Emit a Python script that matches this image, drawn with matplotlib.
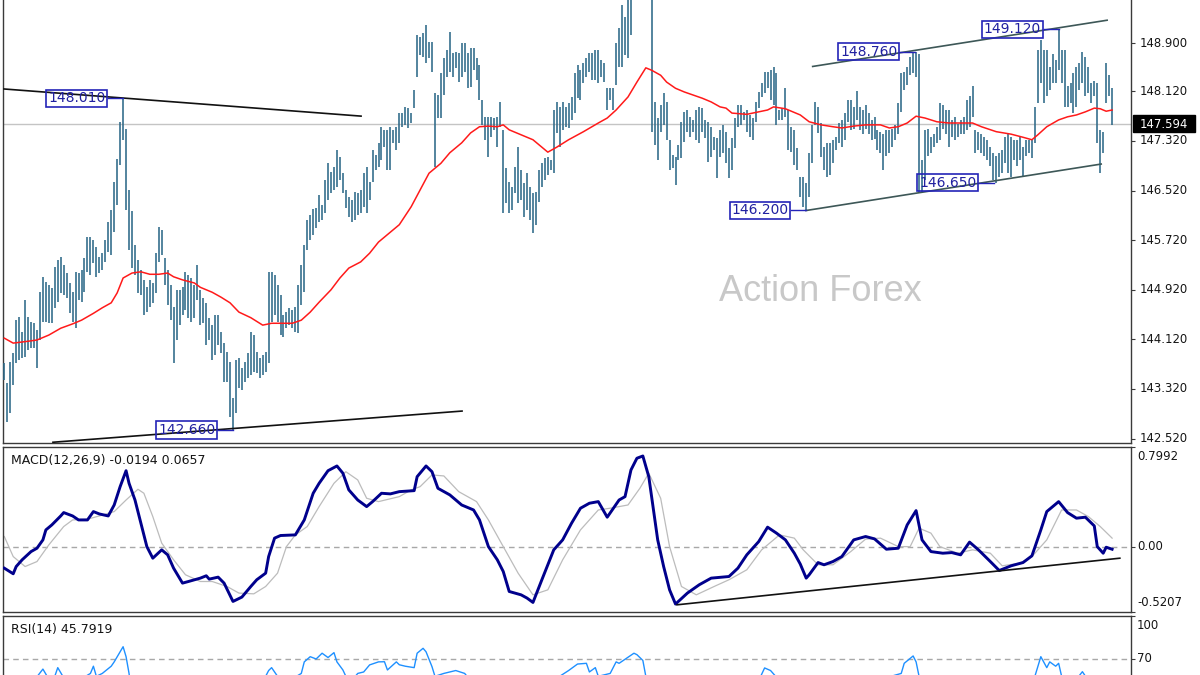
import matplotlib
matplotlib.use("Agg")
import matplotlib.pyplot as plt
import matplotlib.transforms as mtransforms
from matplotlib.patches import Rectangle
import numpy as np

# ---------------- data ----------------
bar_high = [
    143.74, 143.42, 143.76, 143.90, 144.43, 144.48, 144.24, 144.76, 144.48, 144.40,
    144.39, 144.27, 144.88, 145.13, 145.05, 145.00, 144.95, 145.29, 145.40, 145.45,
    145.32, 145.19, 145.03, 144.88, 145.21, 145.19, 145.24, 145.43, 145.77, 145.77,
    145.72, 145.61, 145.45, 145.51, 145.72, 146.01, 146.21, 146.66, 147.03, 147.63,
    148.01, 147.51, 146.53, 146.19, 145.64, 145.40, 145.24, 145.08, 144.97, 145.08,
    145.03, 145.51, 145.93, 145.88, 145.43, 145.24, 144.99, 144.64, 144.92, 144.92,
    144.97, 145.21, 145.16, 145.11, 144.99, 145.32, 144.92, 144.79, 144.71, 144.47,
    144.35, 144.51, 144.51, 144.24, 144.06, 143.92, 143.76, 143.18, 143.79, 143.82,
    143.66, 143.76, 143.90, 144.24, 144.19, 143.92, 143.82, 143.87, 143.92, 145.21,
    145.21, 145.16, 144.99, 144.84, 144.51, 144.56, 144.63, 144.59, 144.64, 144.99,
    145.32, 145.64, 146.05, 146.13, 146.22, 146.24, 146.45, 146.29, 146.69, 146.96,
    146.82, 146.90, 147.18, 147.06, 146.80, 146.53, 146.42, 146.37, 146.50, 146.48,
    146.53, 146.80, 146.90, 146.66, 147.18, 147.10, 147.29, 147.55, 147.50, 147.50,
    147.55, 147.50, 147.55, 147.77, 147.77, 147.87, 147.85, 147.77, 148.14, 149.03,
    149.00, 149.06, 149.19, 148.92, 148.92, 148.09, 148.06, 148.42, 148.66, 148.79,
    149.08, 148.74, 148.76, 148.74, 148.90, 148.90, 148.74, 148.82, 148.82, 148.66,
    148.55, 147.98, 147.71, 147.71, 147.71, 147.69, 147.71, 147.95, 147.50, 146.88,
    146.66, 146.58, 146.90, 147.22, 146.85, 146.64, 146.80, 146.58, 146.48, 146.50,
    146.85, 146.96, 147.04, 147.06, 147.01, 147.82, 147.95, 147.87, 147.95, 147.87,
    147.93, 148.03, 148.42, 148.55, 148.46, 148.58, 148.66, 148.74, 148.74, 148.79,
    148.79, 148.63, 148.58, 148.17, 148.17, 148.17, 148.90, 149.14, 149.51, 149.32,
    149.67, 149.90, 150.05, 150.20, 150.25, 150.15, 150.10, 150.00, 149.95, 147.95,
    147.69, 147.90, 148.09, 147.95, 147.34, 147.09, 147.06, 147.26, 147.63, 147.79,
    147.82, 147.71, 147.66, 147.82, 147.87, 147.85, 147.66, 147.63, 147.55, 147.38,
    147.37, 147.50, 147.58, 147.47, 147.21, 147.37, 147.69, 147.90, 147.90, 147.79,
    147.82, 147.74, 147.69, 147.95, 148.11, 148.25, 148.43, 148.43, 148.46, 148.51,
    148.42, 147.82, 147.85, 148.17, 147.82, 147.55, 147.50, 147.21, 146.74, 146.74,
    146.64, 147.13, 147.58, 147.95, 147.87, 147.61, 147.22, 147.29, 147.29, 147.34,
    147.38, 147.61, 147.66, 147.77, 147.98, 147.98, 147.87, 148.12, 147.87, 147.82,
    147.90, 147.77, 147.66, 147.71, 147.50, 147.47, 147.44, 147.50, 147.50, 147.52,
    147.58, 147.93, 148.41, 148.44, 148.52, 148.68, 148.76, 148.76, 148.73, 147.01,
    147.50, 147.52, 147.39, 147.44, 147.55, 147.93, 147.90, 147.82, 147.82, 147.66,
    147.71, 147.60, 147.66, 147.71, 147.98, 148.04, 148.20, 147.50, 147.47, 147.44,
    147.39, 147.34, 147.23, 147.12, 147.07, 147.12, 147.17, 147.39, 147.44, 147.39,
    147.34, 147.34, 147.39, 147.23, 147.34, 147.34, 147.34, 147.87, 148.79, 148.95,
    148.79, 148.79, 148.52, 148.73, 148.63, 149.12, 148.79, 148.79, 148.20, 148.25,
    148.41, 148.52, 148.57, 148.76, 148.68, 148.52, 148.25, 148.28, 148.25, 147.50,
    147.47, 148.57, 148.38, 148.17,
]
bar_low = [
    143.47, 142.79, 142.93, 143.38, 143.74, 143.79, 143.82, 143.84, 143.95, 143.98,
    143.98, 143.66, 144.11, 144.40, 144.40, 144.39, 144.39, 144.63, 144.72, 144.87,
    144.84, 144.79, 144.55, 144.40, 144.30, 144.76, 144.72, 144.88, 145.21, 145.16,
    145.35, 145.13, 145.19, 145.24, 145.37, 145.53, 145.48, 145.85, 146.29, 146.93,
    147.34, 146.21, 145.56, 145.27, 145.16, 144.87, 144.84, 144.51, 144.56, 144.64,
    144.71, 144.87, 145.37, 145.48, 145.00, 144.67, 144.43, 143.74, 144.11, 144.35,
    144.51, 144.59, 144.47, 144.40, 144.47, 144.76, 144.35, 144.39, 144.03, 144.11,
    143.79, 143.87, 144.03, 143.90, 143.43, 143.43, 142.87, 142.66, 142.93, 143.34,
    143.30, 143.43, 143.50, 143.55, 143.59, 143.58, 143.50, 143.55, 143.59, 143.74,
    144.40, 144.51, 144.40, 144.19, 144.16, 144.30, 144.35, 144.30, 144.24, 144.22,
    144.68, 144.88, 145.56, 145.72, 145.80, 145.92, 146.01, 146.05, 146.16, 146.37,
    146.48, 146.53, 146.58, 146.69, 146.48, 146.24, 146.09, 146.01, 146.05, 146.13,
    146.16, 146.26, 146.16, 146.37, 146.66, 146.85, 146.90, 147.01, 147.23, 146.85,
    146.85, 147.29, 147.18, 147.29, 147.55, 147.58, 147.53, 147.61, 147.85, 148.35,
    148.71, 148.68, 148.58, 148.66, 148.43, 146.90, 147.69, 147.69, 148.06, 148.35,
    148.43, 148.35, 148.50, 148.27, 148.35, 148.43, 148.17, 148.19, 148.46, 148.30,
    147.98, 147.58, 147.34, 147.06, 147.39, 147.50, 147.22, 147.55, 146.16, 146.32,
    146.16, 146.21, 146.48, 146.32, 146.37, 146.09, 146.21, 146.05, 145.84, 145.97,
    146.34, 146.58, 146.69, 146.77, 146.85, 146.80, 147.45, 147.22, 147.50, 147.55,
    147.53, 147.66, 147.77, 148.01, 147.98, 148.26, 148.35, 148.43, 148.30, 148.30,
    148.26, 148.35, 148.27, 147.82, 147.98, 147.82, 148.22, 148.51, 148.51, 148.71,
    148.66, 149.03, 149.70, 149.75, 149.85, 149.80, 149.72, 149.65, 147.47, 147.26,
    147.01, 147.47, 147.58, 147.34, 146.85, 146.88, 146.61, 147.01, 147.04, 147.30,
    147.47, 147.39, 147.47, 147.34, 147.29, 147.47, 147.37, 146.98, 147.06, 147.17,
    146.72, 147.06, 147.13, 146.96, 146.72, 146.85, 147.21, 147.55, 147.58, 147.66,
    147.47, 147.38, 147.34, 147.63, 147.85, 148.03, 148.09, 148.17, 147.98, 147.90,
    147.58, 147.66, 147.66, 147.71, 147.17, 147.14, 146.93, 146.85, 146.42, 146.26,
    146.20, 146.42, 146.96, 147.58, 147.45, 147.06, 146.85, 146.74, 146.77, 146.96,
    147.17, 147.29, 147.23, 147.34, 147.63, 147.50, 147.52, 147.66, 147.50, 147.44,
    147.52, 147.44, 147.34, 147.36, 147.17, 147.12, 146.85, 147.07, 147.12, 147.23,
    147.34, 147.44, 147.79, 148.14, 148.22, 148.38, 148.41, 148.36, 146.50, 146.50,
    146.69, 147.07, 147.12, 147.23, 147.28, 147.34, 147.52, 147.44, 147.23, 147.39,
    147.34, 147.39, 147.44, 147.44, 147.50, 147.55, 147.71, 147.12, 147.17, 147.12,
    147.07, 147.01, 146.91, 146.69, 146.65, 146.74, 146.80, 146.96, 146.80, 146.74,
    147.01, 146.91, 147.01, 146.74, 147.07, 147.12, 147.04, 147.28, 147.93, 148.25,
    147.93, 148.04, 148.14, 148.25, 148.25, 148.46, 148.25, 147.87, 147.87, 147.93,
    147.77, 147.87, 148.14, 148.25, 148.04, 148.09, 147.93, 148.04, 147.28, 146.80,
    147.12, 147.93, 148.04, 147.58,
]

ma_idx = [0, 3, 8, 11, 15, 19, 23, 26, 30, 33, 36, 38, 40, 43, 46, 49, 52, 55, 57, 60,
          64, 66, 70, 73, 76, 79, 83, 87, 90, 97, 100, 103, 106, 110, 113, 116, 120, 123, 126, 130,
          133, 137, 140, 143, 147, 150, 154, 157, 160, 163, 166, 168, 170, 174, 178, 183, 186, 190, 195, 200,
          203, 206, 210, 213, 216, 218, 221, 223, 226, 229, 232, 235, 238, 241, 243, 245, 250, 252, 257, 259,
          263, 268, 271, 275, 279, 282, 286, 290, 295, 298, 301, 304, 307, 310, 314, 318, 322, 326, 329, 334,
          339, 343, 346, 348, 351, 355, 358, 361, 364, 367, 369, 371, 373]
ma_val = [144.14, 144.06, 144.09, 144.11, 144.19, 144.30, 144.37, 144.43, 144.54, 144.63,
          144.71, 144.87, 145.11, 145.19, 145.21, 145.17, 145.17, 145.19, 145.13, 145.08,
          145.03, 144.96, 144.88, 144.80, 144.71, 144.56, 144.47, 144.35, 144.38, 144.38,
          144.43, 144.56, 144.72, 144.92, 145.11, 145.27, 145.37, 145.51, 145.69, 145.85,
          145.97, 146.26, 146.53, 146.80, 146.96, 147.13, 147.29, 147.45, 147.55, 147.56,
          147.55, 147.58, 147.50, 147.42, 147.34, 147.14, 147.22, 147.34, 147.47, 147.61,
          147.69, 147.82, 148.03, 148.27, 148.50, 148.46, 148.38, 148.27, 148.17, 148.11,
          148.06, 148.01, 147.95, 147.87, 147.85, 147.77, 147.75, 147.77, 147.82, 147.87,
          147.84, 147.74, 147.63, 147.58, 147.55, 147.53, 147.56, 147.58, 147.58, 147.53,
          147.55, 147.61, 147.72, 147.69, 147.63, 147.61, 147.61, 147.61, 147.55, 147.47,
          147.43, 147.38, 147.34, 147.42, 147.55, 147.66, 147.71, 147.74, 147.79, 147.85,
          147.84, 147.80, 147.82]

macd_idx = [0, 3, 4, 6, 9, 11, 13, 14, 16, 19, 20, 23, 25, 28, 30, 32, 35, 37, 39, 41,
            42, 44, 46, 48, 50, 53, 55, 57, 60, 62, 66, 68, 69, 72, 74, 77, 80, 83, 85, 88,
            89, 91, 93, 98, 101, 104, 106, 109, 112, 114, 116, 119, 122, 124, 127, 130, 133, 138, 139, 142,
            144, 146, 150, 154, 158, 160, 163, 166, 168, 170, 174, 176, 178, 181, 185, 188, 191, 194, 197, 200,
            203, 207, 209, 211, 213, 215, 217, 220, 222, 224, 226, 230, 234, 238, 244, 247, 250, 254, 257, 260,
            263, 266, 268, 270, 271, 274, 276, 279, 282, 286, 290, 293, 297, 301, 304, 307, 309, 312, 316, 319,
            322, 325, 328, 332, 335, 339, 343, 346, 349, 351, 355, 358, 361, 364, 367, 368, 370, 371, 373]
macd_val = [-0.173, -0.218, -0.160, -0.106, -0.040, -0.013, 0.054, 0.134, 0.174, 0.246,
            0.273, 0.246, 0.214, 0.214, 0.281, 0.262, 0.246, 0.334, 0.481, 0.609,
            0.508, 0.374, 0.188, 0.000, -0.093, -0.026, -0.066, -0.173, -0.293, -0.280,
            -0.253, -0.234, -0.261, -0.245, -0.293, -0.440, -0.405, -0.320, -0.266, -0.213,
            -0.080, 0.068, 0.089, 0.094, 0.214, 0.428, 0.508, 0.609, 0.647, 0.589,
            0.455, 0.374, 0.321, 0.361, 0.428, 0.423, 0.441, 0.449, 0.561, 0.647,
            0.601, 0.468, 0.415, 0.334, 0.294, 0.214, 0.000, -0.106, -0.200, -0.360,
            -0.387, -0.413, -0.448, -0.266, -0.026, 0.054, 0.188, 0.308, 0.348, 0.361,
            0.236, 0.374, 0.401, 0.615, 0.709, 0.727, 0.561, 0.054, -0.160, -0.347,
            -0.461, -0.373, -0.306, -0.253, -0.240, -0.173, -0.066, 0.040, 0.156, 0.108,
            0.054, -0.053, -0.140, -0.253, -0.226, -0.128, -0.146, -0.120, -0.080, 0.054,
            0.081, 0.062, -0.021, -0.013, 0.174, 0.289, 0.054, -0.040, -0.053, -0.048,
            -0.066, 0.036, -0.026, -0.120, -0.192, -0.154, -0.128, -0.074, 0.134, 0.281,
            0.361, 0.273, 0.228, 0.236, 0.166, 0.000, -0.053, -0.005, -0.021]

sig_idx = [0, 3, 7, 11, 15, 20, 23, 28, 32, 37, 41, 45, 47, 50, 53, 57, 61, 66, 70, 75,
           79, 84, 88, 92, 95, 98, 102, 106, 111, 115, 119, 122, 126, 133, 137, 140, 144, 148, 153, 159,
           163, 168, 173, 178, 183, 188, 194, 200, 204, 210, 214, 217, 221, 224, 228, 233, 239, 244, 250, 255,
           261, 266, 269, 274, 279, 285, 290, 295, 301, 305, 308, 312, 315, 321, 326, 332, 336, 342, 346, 351,
           356, 361, 365, 369, 373]
sig_val = [0.081, -0.080, -0.160, -0.120, 0.014, 0.161, 0.214, 0.220, 0.246, 0.281,
           0.374, 0.460, 0.428, 0.241, 0.028, -0.106, -0.226, -0.280, -0.280, -0.320,
           -0.373, -0.379, -0.320, -0.213, 0.000, 0.094, 0.161, 0.321, 0.508, 0.601,
           0.535, 0.388, 0.361, 0.401, 0.455, 0.481, 0.575, 0.567, 0.441, 0.361,
           0.214, 0.000, -0.213, -0.387, -0.347, -0.106, 0.134, 0.294, 0.308, 0.334,
           0.468, 0.589, 0.388, 0.000, -0.320, -0.387, -0.320, -0.266, -0.186, -0.026,
           0.094, 0.068, -0.026, -0.146, -0.146, -0.040, 0.060, 0.068, 0.000, 0.000,
           0.148, 0.108, 0.000, -0.053, -0.026, -0.053, -0.154, -0.133, -0.080, 0.054,
           0.294, 0.294, 0.241, 0.161, 0.068]

rsi_idx = [0, 10, 13, 15, 17, 18, 20, 25, 29, 30, 31, 33, 36, 37, 39, 40, 41, 42, 43, 59,
           77, 86, 89, 90, 92, 96, 100, 101, 103, 105, 107, 109, 111, 112, 114, 115, 117, 119, 121, 123,
           126, 128, 129, 132, 133, 135, 138, 139, 141, 142, 144, 145, 148, 152, 155, 157, 167, 184, 187, 190,
           193, 196, 197, 199, 200, 204, 206, 207, 210, 212, 213, 215, 216, 217, 234, 254, 256, 258, 261, 270,
           285, 302, 303, 306, 307, 308, 309, 335, 347, 349, 351, 352, 354, 355, 356, 361, 363, 365, 369, 373]
rsi_val = [45, 55, 63, 56, 58, 64, 57, 55, 60, 65, 58, 60, 65, 68, 75, 78.5, 71.6, 60, 45, 35,
           28, 50, 62, 64, 58, 55, 60, 68, 71.6, 70, 74, 71, 74.4, 68, 62.4, 58, 55, 60, 61, 65.9,
           68, 68.1, 62.4, 68, 66, 65, 64, 74, 77.4, 75, 64.7, 58, 60, 62, 60, 55, 45, 40, 58, 62,
           66.5, 67, 61, 64, 58, 60, 68, 67, 71.2, 74, 73, 69, 58, 45, 40, 55, 63.8, 62, 55, 30,
           50, 60, 67, 72.1, 68, 58, 40, 40, 58, 71.6, 64, 68, 65, 67, 58, 56, 61.2, 55, 40, 45.8]

# trendlines: (bar0, value0, bar1, value1)
price_lines_black = [(-0.4, 148.16, 120.4, 147.72), (16.1, 142.46, 154.4, 142.965)]
price_lines_channel = [(271.9, 148.52, 371.6, 149.27), (269.6, 146.196, 369.6, 146.95)]
macd_lines = [(226.5, -0.467, 375.6, -0.093)]

swing_values = [148.010, 142.660, 146.200, 148.760, 149.120, 146.650]
swing_bars = [40, 77, 270, 306.6, 355, 333.2]

last_price = 147.594
price_ticks = [148.900, 148.120, 147.320, 146.520, 145.720, 144.920, 144.120, 143.320, 142.520]
macd_range = (-0.5207, 0.7992)
macd_text = "MACD(12,26,9) -0.0194 0.0657"
rsi_text = "RSI(14) 45.7919"

# ---------------- layout ----------------
W, H = 1200, 675
fig = plt.figure(figsize=(12, 6.75), dpi=100)
fig.patch.set_facecolor("white")


def px_rect(x0, y0, x1, y1):
    return [x0 / W, 1 - y1 / H, (x1 - x0) / W, (y1 - y0) / H]


X0, X1 = 3, 1131
BAR0, BAR_STEP = 4.3, 2.97
xlim = ((X0 - BAR0) / BAR_STEP, (X1 - BAR0) / BAR_STEP)

ax = fig.add_axes(px_rect(X0, 0, X1, 443))
axm = fig.add_axes(px_rect(X0, 447, X1, 611.5))
axr = fig.add_axes(px_rect(X0, 615.7, X1, 760))

FRAME = "#3a3a3a"
TXT = "#141414"
FONT = "DejaVu Sans"

for a in (ax, axm, axr):
    a.set_xlim(*xlim)
    a.set_xticks([])
    a.set_facecolor("white")
    for s in a.spines.values():
        s.set_color(FRAME)
        s.set_linewidth(1.0)
    a.yaxis.tick_right()
    a.tick_params(axis="y", which="both", length=3, width=0.8, color=FRAME,
                  labelright=False, labelleft=False, direction="out")
ax.spines["top"].set_visible(False)

# ---------------- main price panel ----------------
p_top = 149.594
px_per_unit = 62.0
ax.set_ylim(p_top - 443 / px_per_unit, p_top)

idx = np.arange(len(bar_high))
ax.axhline(last_price, color="#c4c4c4", lw=1.0, zorder=1)
ax.vlines(idx, bar_low, bar_high, color="#2d6988", lw=1.15, zorder=3)
ax.plot(ma_idx, ma_val, color="#ff1a1a", lw=1.1, zorder=4)

for (b0, v0, b1, v1) in price_lines_black:
    ax.plot([b0, b1], [v0, v1], color="#111111", lw=1.2, zorder=5, solid_capstyle="butt")
for (b0, v0, b1, v1) in price_lines_channel:
    ax.plot([b0, b1], [v0, v1], color="#3d5757", lw=1.2, zorder=5, solid_capstyle="butt")

# swing labels
box_offset = 15.6      # bars between box centre and the swing bar
box_half = 10.6        # half box width in bars
for v, b in zip(swing_values, swing_bars):
    c = b - box_offset
    ax.text(c, v, f"{v:.3f}", ha="center", va="center", fontsize=10, family=FONT,
            color="#2020a0", zorder=6,
            bbox=dict(boxstyle="square,pad=0.12", fc="none", ec="#2424b8", lw=1.2))
    ax.plot([c + box_half, b], [v, v], color="#2424b8", lw=1.0, zorder=6)

ax.text(0.7247, 0.3415, "Action Forex", transform=ax.transAxes, ha="center", va="center",
        fontsize=26, color="#c8c8c8", family="Liberation Sans", zorder=2)

# right axis labels
ax.set_yticks(price_ticks)
trans_p = mtransforms.blended_transform_factory(ax.transAxes, ax.transData)
lab_x = (1140 - X0) / (X1 - X0)
for t in price_ticks:
    ax.text(lab_x, t, f"{t:.3f}", transform=trans_p, ha="left", va="center",
            fontsize=8.4, family=FONT, color=TXT, clip_on=False)

# last price box
bx0 = (1133 - X0) / (X1 - X0)
bw = 62 / (X1 - X0)
bh = 17 / px_per_unit
ax.add_patch(Rectangle((bx0, last_price - bh / 2), bw, bh, transform=trans_p,
                       facecolor="black", edgecolor="black", clip_on=False, zorder=10))
ax.text(bx0 + bw / 2, last_price, f"{last_price:.3f}", transform=trans_p, ha="center",
        va="center", fontsize=8.4, family=FONT, color="white", clip_on=False, zorder=11)

# ---------------- MACD panel ----------------
axm.set_ylim(*macd_range)
axm.axhline(0, color="#a8a8a8", lw=1.0, ls=(0, (4, 3)), zorder=1)
axm.plot(sig_idx, sig_val, color="#bcbcbc", lw=0.9, zorder=2)
axm.plot(macd_idx, macd_val, color="#00008c", lw=2.1, zorder=3, solid_joinstyle="round")
for (b0, v0, b1, v1) in macd_lines:
    axm.plot([b0, b1], [v0, v1], color="#111111", lw=1.2, zorder=4)
axm.set_yticks([macd_range[0], 0, macd_range[1]])
axm.text((11 - X0) / (X1 - X0), 0.9167, macd_text, transform=axm.transAxes, ha="left",
         va="center", fontsize=9, family=FONT, color=TXT)
trans_m = mtransforms.blended_transform_factory(axm.transAxes, axm.transData)
lab_x2 = (1137 - X0) / (X1 - X0)
axm.text(lab_x2, macd_range[1], f"{macd_range[1]:.4f}", ha="left", va="center",
         fontsize=8.4, family=FONT, color=TXT, clip_on=False,
         transform=mtransforms.offset_copy(trans_m, fig=fig, y=-9.7, units="dots"))
axm.text(lab_x2, 0, "0.00", ha="left", va="center", fontsize=8.4, family=FONT,
         color=TXT, clip_on=False, transform=trans_m)
axm.text(lab_x2, macd_range[0], f"{macd_range[0]:.4f}", ha="left", va="center",
         fontsize=8.4, family=FONT, color=TXT, clip_on=False,
         transform=mtransforms.offset_copy(trans_m, fig=fig, y=8.8, units="dots"))

# ---------------- RSI panel ----------------
axr.set_ylim(0, 100)
axr.axhline(70, color="#a8a8a8", lw=1.0, ls=(0, (4, 3)), zorder=1)
axr.axhline(30, color="#a8a8a8", lw=1.0, ls=(0, (4, 3)), zorder=1)
axr.plot(rsi_idx, rsi_val, color="#1e90ff", lw=1.0, zorder=2)
axr.set_yticks([100, 70])
axr.text((11 - X0) / (X1 - X0), 0.9057, rsi_text, transform=axr.transAxes, ha="left",
         va="center", fontsize=9, family=FONT, color=TXT)
trans_r = mtransforms.blended_transform_factory(axr.transAxes, axr.transData)
axr.text(lab_x2, 100, "100", ha="left", va="center", fontsize=8.4, family=FONT,
         color=TXT, clip_on=False,
         transform=mtransforms.offset_copy(trans_r, fig=fig, y=-10, units="dots"))
axr.text(lab_x2, 70, "70", ha="left", va="center", fontsize=8.4, family=FONT,
         color=TXT, clip_on=False, transform=trans_r)

fig.savefig("out.png", dpi=100, facecolor="white")
